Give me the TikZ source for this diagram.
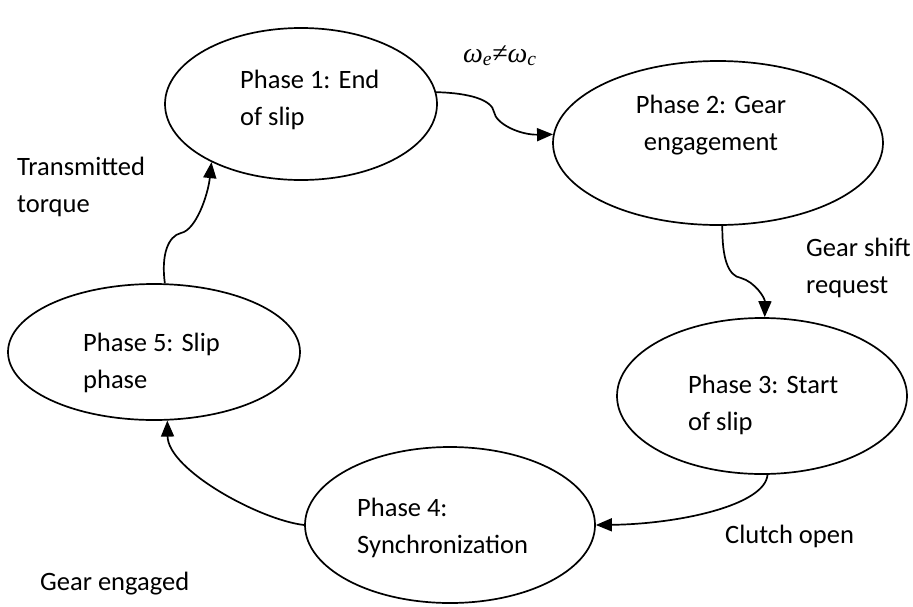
\documentclass[tikz,border=0pt]{standalone}
\usepackage{fontspec}
\setmainfont{Carlito}
\newfontfamily\symbfont{Liberation Serif}
\usepackage{tikz}
\usetikzlibrary{shapes.geometric,arrows.meta}

\begin{document}
\begin{tikzpicture}[x=1pt, y=1pt,
        phase/.style = {draw, ellipse, line width=1.7pt, inner sep=0pt},
        lbl/.style = {font=\fontsize{26.5}{37.5}\selectfont, align=left, inner sep=0pt},
        link/.style = {line width=1.7pt, -{Triangle[length=16pt,width=13pt]}}]
            \useasboundingbox (0,0) rectangle (913,-606);

            \node[phase, minimum width=272pt, minimum height=152pt] (p1) at (301,-104) {};
            \node[phase, minimum width=330pt, minimum height=164pt] (p2) at (718,-143) {};
            \node[phase, minimum width=290pt, minimum height=156pt] (p3) at (762,-396) {};
            \node[phase, minimum width=290pt, minimum height=156pt] (p4) at (450,-525) {};
            \node[phase, minimum width=292pt, minimum height=136pt] (p5) at (154,-352) {};

            \node[lbl, anchor=west] (t1) at (240,-100) {Phase 1: End\\of slip};
            \node[lbl, align=center] (t2) at (711,-125) {Phase 2: Gear\\engagement};
            \node[lbl, anchor=west] (t3) at (688,-405) {Phase 3: Start\\of slip};
            \node[lbl, anchor=west] (t4) at (357,-528) {Phase 4:\\Synchronization};
            \node[lbl, anchor=west] (t5) at (83,-363) {Phase 5: Slip\\phase};

            \node[lbl, anchor=base west, font=\fontsize{28}{30}\symbfont\itshape] (speed) at (463,-62)
                {ω\textsubscript{e}≠ω\textsubscript{c}};
            \node[lbl, anchor=west] (torque) at (17,-187) {Transmitted\\torque};
            \node[lbl, anchor=west] (shift) at (806,-268) {Gear shift\\request};
            \node[lbl, anchor=west] (open) at (725,-536) {Clutch open};
            \node[lbl, anchor=west] (engaged) at (40,-584) {Gear engaged};

            \coordinate (w1) at (494,-112);
            \coordinate (w2) at (741,-278);
            \coordinate (w5) at (181,-233);

            %wiggly connectors
            \draw[link] (p1.5) .. controls (470,-93) and (492,-100) .. (w1)
                .. controls (496,-124) and (520,-135) .. (p2.177);
            \draw[link] (p2.-87) .. controls (722,-258) and (728,-276) .. (w2)
                .. controls (755,-282) and (765,-298) .. (p3.88);
            \draw[link] (p5.81) .. controls (161,-255) and (168,-236) .. (w5)
                .. controls (196,-230) and (208,-195) .. (p1.213);
            %curved
            \draw[link] (p3.-86) .. controls (765,-505) and (680,-524) .. (p4.east);
            \draw[link] (p4.west) .. controls (260,-520) and (168,-470) .. (p5.-79);
        \end{tikzpicture}
\end{document}
